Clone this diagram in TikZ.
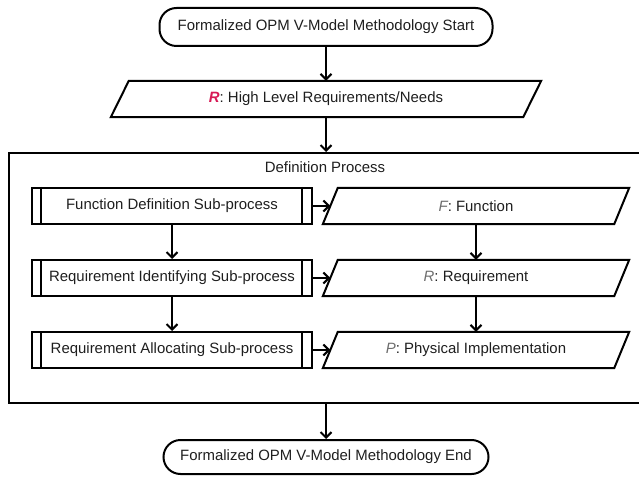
\documentclass[tikz,border=0pt]{standalone}
\usepackage{fontspec}
\setmainfont{Liberation Sans}
\usetikzlibrary{arrows.meta}
\definecolor{txt}{RGB}{30,30,30}
\definecolor{rkey}{RGB}{215,25,85}
\definecolor{gkey}{RGB}{110,110,110}
\begin{document}
\begin{tikzpicture}[x=1bp,y=-1bp,
  every node/.style={font=\fontsize{15}{18}\selectfont, text=txt, inner sep=0pt},
  line/.style={line width=2bp, draw=black},
  arr/.style={line, -{Straight Barb[length=5.5bp,width=11bp,line width=2bp]}},
  terminal/.style={line, rounded corners=17bp, minimum height=#1},
  subproc/.style={line, minimum width=280bp, minimum height=36bp},
  databox/.style={minimum height=36bp, minimum width=#1},
  frame/.style={line}
]
\useasboundingbox (0,0) rectangle (639,477);

% start / end terminals
\node[terminal=38bp, minimum width=333bp] (start) at (326,27) {Formalized OPM V-Model Methodology Start};
\node[terminal=34bp, minimum width=325bp] (endn) at (326,457) {Formalized OPM V-Model Methodology End};

% high level requirements (parallelogram drawn below)
\node[databox=412bp] (hl) at (326,99)
  {\textcolor{rkey}{\bfseries\itshape R}: High Level Requirements/Needs};

% definition process frame
\node[frame, minimum width=632bp, minimum height=250bp] (defproc) at (325,278) {};
\node (deflabel) at (325,167) {Definition Process};

% sub-processes
\node[subproc] (fdef) at (172,206) {Function Definition Sub-process};
\node[subproc] (rid)  at (172,278) {Requirement Identifying Sub-process};
\node[subproc] (ral)  at (172,350) {Requirement Allocating Sub-process};

% data objects
\node[databox=291bp] (fn) at (476,206) {\textcolor{gkey}{\itshape F}: Function};
\node[databox=291bp] (rq) at (476,278) {\textcolor{gkey}{\itshape R}: Requirement};
\node[databox=291bp] (ph) at (476,350) {\textcolor{gkey}{\itshape P}: Physical Implementation};

% parallelogram outlines
\draw[line] ([xshift=-9bp]hl.south west) -- ([xshift=9bp]hl.north west) -- ([xshift=9bp]hl.north east) -- ([xshift=-9bp]hl.south east) -- cycle;
\foreach \n in {fn,rq,ph}
  \draw[line] ([xshift=-7.5bp]\n.south west) -- ([xshift=7.5bp]\n.north west) -- ([xshift=7.5bp]\n.north east) -- ([xshift=-7.5bp]\n.south east) -- cycle;

% double side bars of the sub-process boxes
\foreach \n in {fdef,rid,ral} {
  \draw[line] ([xshift=10bp]\n.north west) -- ([xshift=10bp]\n.south west);
  \draw[line] ([xshift=-11bp]\n.north east) -- ([xshift=-11bp]\n.south east);
}

% main flow
\draw[arr] (start) -- (hl);
\draw[arr] (hl.south) -- (hl.south |- defproc.north);
\draw[arr] (endn.north |- defproc.south) -- (endn.north);

% inner flow
\draw[arr] (fdef) -- (rid);
\draw[arr] (rid) -- (ral);
\draw[arr] (fn) -- (rq);
\draw[arr] (rq) -- (ph);
\draw[arr] (fdef.east) -- (fn.west);
\draw[arr] (rid.east) -- (rq.west);
\draw[arr] (ral.east) -- (ph.west);
\end{tikzpicture}
\end{document}
